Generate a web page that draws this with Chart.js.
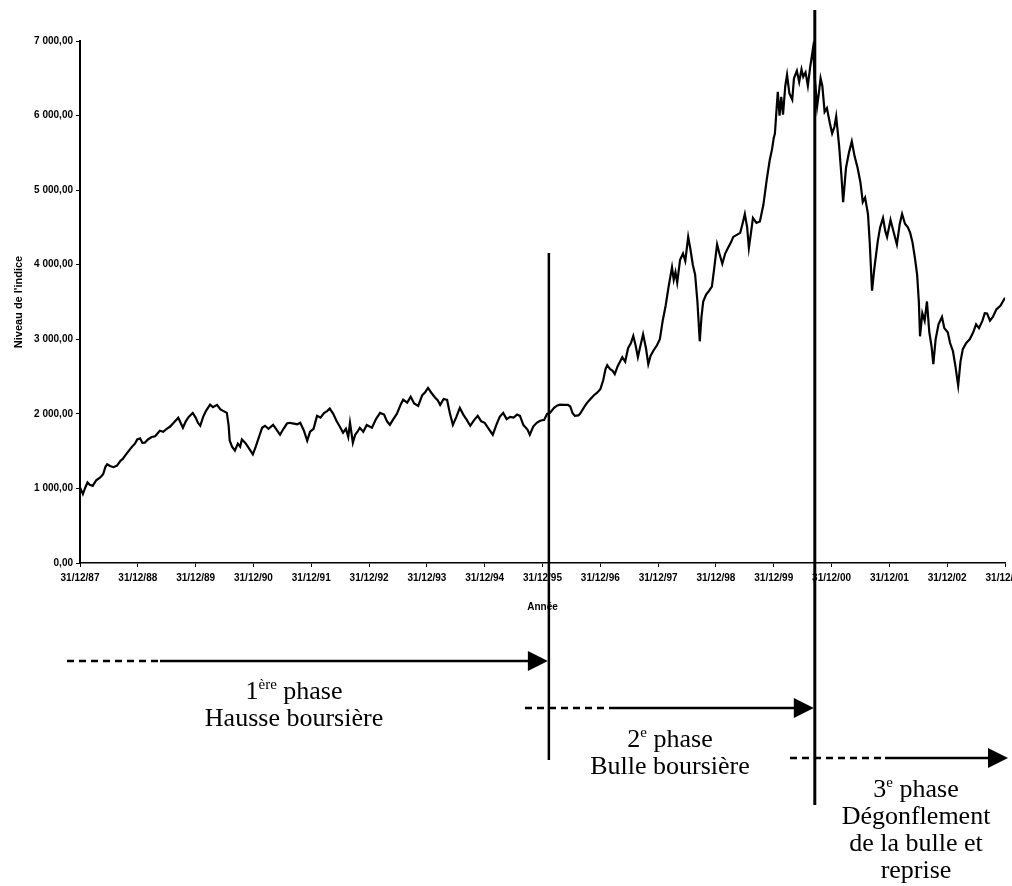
<!DOCTYPE html>
<html><head><meta charset="utf-8">
<script src="https://cdn.jsdelivr.net/npm/chart.js@4.4.1/dist/chart.umd.min.js"></script>
<style>
html,body{margin:0;padding:0;background:#fff;overflow:hidden;width:1012px;height:886px}
#wrap{position:absolute;left:0;top:0;width:1060px;height:886px}
</style></head>
<body><div id="wrap"><canvas id="c" width="1060" height="886"></canvas></div>
<script>
// Dates as decimal years (1988.00 = 31/12/87)
const years = [
1988.00,1988.03,1988.05,1988.09,1988.13,1988.17,1988.22,1988.28,1988.35,1988.40,1988.44,1988.47,1988.52,1988.58,1988.64,1988.70,1988.74,1988.78,1988.84,1988.90,1988.95,1988.99,
1989.04,1989.08,1989.12,1989.18,1989.24,1989.30,1989.38,1989.44,1989.50,1989.56,1989.62,1989.70,1989.74,1989.78,1989.83,1989.88,1989.95,
1990.00,1990.04,1990.08,1990.13,1990.18,1990.25,1990.30,1990.37,1990.43,1990.50,1990.54,1990.57,1990.59,1990.63,1990.68,1990.73,1990.77,1990.80,1990.86,1990.92,1990.99,
1991.04,1991.10,1991.15,1991.20,1991.26,1991.34,1991.40,1991.46,1991.52,1991.58,1991.63,1991.70,1991.76,1991.81,1991.87,1991.93,1991.98,
1992.04,1992.10,1992.16,1992.22,1992.28,1992.32,1992.38,1992.44,1992.50,1992.55,1992.60,1992.64,1992.67,1992.72,1992.76,1992.80,1992.84,1992.90,1992.96,
1993.05,1993.12,1993.19,1993.26,1993.31,1993.36,1993.42,1993.48,1993.55,1993.59,1993.66,1993.72,1993.78,1993.85,1993.92,1993.97,
1994.02,1994.08,1994.14,1994.19,1994.23,1994.29,1994.35,1994.40,1994.45,1994.51,1994.57,1994.63,1994.69,1994.75,1994.82,1994.88,1994.94,
1995.00,1995.07,1995.14,1995.20,1995.26,1995.32,1995.38,1995.44,1995.50,1995.56,1995.61,1995.67,1995.74,1995.78,1995.84,1995.90,1995.96,
1996.03,1996.08,1996.13,1996.20,1996.25,1996.30,1996.38,1996.44,1996.48,1996.52,1996.56,1996.62,1996.65,1996.72,1996.77,1996.83,1996.89,1996.94,
1997.00,1997.05,1997.09,1997.12,1997.17,1997.21,1997.25,1997.30,1997.34,1997.38,1997.43,1997.48,1997.53,1997.57,1997.61,1997.65,1997.69,1997.74,1997.79,1997.83,1997.87,1997.92,1997.98,
1998.03,1998.08,1998.13,1998.18,1998.24,1998.27,1998.30,1998.33,1998.38,1998.43,1998.47,1998.52,1998.56,1998.60,1998.64,1998.68,1998.72,1998.75,1998.78,1998.83,1998.88,1998.93,1998.97,
1999.02,1999.06,1999.11,1999.16,1999.21,1999.26,1999.30,1999.36,1999.42,1999.46,1999.50,1999.54,1999.57,1999.61,1999.64,1999.70,1999.76,1999.82,1999.88,1999.93,1999.97,
2000.00,2000.02,2000.05,2000.07,2000.10,2000.13,2000.16,2000.20,2000.23,2000.27,2000.32,2000.35,2000.40,2000.44,2000.48,2000.51,2000.55,2000.59,2000.63,2000.68,2000.71,2000.75,2000.78,2000.81,2000.84,2000.88,2000.92,2000.97,
2001.01,2001.05,2001.08,2001.13,2001.17,2001.20,2001.25,2001.30,2001.35,2001.40,2001.45,2001.50,2001.54,2001.58,2001.63,2001.66,2001.70,2001.74,2001.80,2001.84,2001.89,2001.93,2001.96,
2002.02,2002.07,2002.13,2002.18,2002.22,2002.27,2002.32,2002.36,2002.40,2002.44,2002.48,2002.51,2002.53,2002.57,2002.61,2002.65,2002.69,2002.73,2002.76,2002.80,2002.85,2002.91,2002.95,
2003.01,2003.05,2003.10,2003.14,2003.19,2003.23,2003.27,2003.33,2003.39,2003.45,2003.50,2003.55,2003.61,2003.65,2003.69,2003.74,2003.79,2003.85,2003.92,2004.00
];
const levels = [
1013,960,924,1010,1080,1050,1035,1110,1147,1190,1290,1324,1300,1285,1307,1370,1395,1440,1500,1560,1600,1657,
1670,1610,1613,1660,1690,1700,1773,1760,1800,1830,1880,1947,1880,1813,1900,1960,2013,
1950,1880,1840,1960,2040,2124,2090,2120,2060,2030,2013,1850,1640,1560,1507,1600,1560,1657,1610,1540,1457,
1560,1700,1813,1840,1800,1853,1790,1720,1800,1870,1880,1870,1860,1880,1780,1640,1760,
1800,1973,1950,2010,2040,2071,2000,1900,1820,1747,1800,1690,1880,1613,1720,1760,1813,1760,1850,
1813,1930,2013,1990,1900,1853,1930,2000,2130,2191,2150,2230,2140,2107,2250,2290,
2347,2280,2220,2180,2120,2200,2187,2000,1853,1960,2080,1990,1920,1840,1920,1973,1900,
1880,1800,1720,1850,1960,2013,1930,1960,1950,1990,1973,1850,1790,1720,1830,1880,1907,
1920,2000,2013,2080,2110,2124,2120,2120,2099,2010,1973,1980,2000,2090,2147,2200,2250,2280,
2330,2450,2600,2653,2600,2580,2533,2640,2700,2760,2700,2880,2950,3044,2920,2760,2900,3067,2880,2667,2780,2850,2920,
3000,3253,3450,3700,3965,3800,3900,3760,4067,4150,4050,4373,4200,4000,3867,3500,2973,3300,3507,3600,3650,3707,3950,
4272,4150,4013,4150,4227,4300,4373,4400,4427,4550,4680,4500,4227,4450,4627,4560,4579,4800,5147,5400,5547,
5700,5760,6100,6320,6000,6250,6013,6400,6547,6300,6213,6500,6600,6450,6620,6520,6580,6400,6650,6907,6500,6120,6300,6500,6400,6050,6100,5900,
5760,5850,5987,5600,5200,4840,5300,5500,5653,5450,5300,5100,4840,4900,4680,4300,3653,3950,4320,4500,4627,4450,4373,
4600,4450,4272,4550,4680,4550,4500,4427,4300,4100,3867,3500,3040,3350,3250,3507,3100,2900,2667,3000,3200,3300,3150,
3093,2950,2840,2650,2379,2700,2867,2950,3000,3093,3200,3150,3250,3350,3347,3250,3300,3400,3450,3557
];
const tickLabels = ['31/12/87','31/12/88','31/12/89','31/12/90','31/12/91','31/12/92','31/12/93','31/12/94','31/12/95','31/12/96','31/12/97','31/12/98','31/12/99','31/12/00','31/12/01','31/12/02','31/12/03'];
const yTicks = [0,1000,2000,3000,4000,5000,6000,7000];
const phaseBounds = [1996.11, 2000.71];
const phaseNums = ['1','2','3'];
const phaseSups = ['ère','e','e'];
const phaseLines = [['Hausse boursière'],['Bulle boursière'],['Dégonflement','de la bulle et','reprise']];

function fmt(v){
  if (v === 0) return '0,00';
  return Math.floor(v/1000) + ' ' + String(v%1000).padStart(3,'0') + ',00';
}

const axisFont = {family:'"Liberation Sans", Arial, sans-serif', size:10, weight:'bold'};
const titleFont = {family:'"Liberation Sans", Arial, sans-serif', size:11, weight:'bold'};

const annot = {
  id:'annot',
  afterDraw(chart){
    const ctx = chart.ctx, xs = chart.scales.x;
    const b1 = xs.getPixelForValue(phaseBounds[0]);
    const b2 = xs.getPixelForValue(phaseBounds[1]);
    const right = chart.chartArea.right;
    ctx.save();
    ctx.strokeStyle = '#000'; ctx.fillStyle = '#000';
    function vline(x, y0, y1, w){
      ctx.lineWidth = w; ctx.setLineDash([]);
      ctx.beginPath(); ctx.moveTo(x, y0); ctx.lineTo(x, y1); ctx.stroke();
    }
    function arrow(x0, xd, x1, y){
      ctx.lineWidth = 2.5;
      ctx.setLineDash([7,5]);
      ctx.beginPath(); ctx.moveTo(x0, y); ctx.lineTo(xd, y); ctx.stroke();
      ctx.setLineDash([]);
      ctx.beginPath(); ctx.moveTo(xd, y); ctx.lineTo(x1-18, y); ctx.stroke();
      ctx.beginPath(); ctx.moveTo(x1, y); ctx.lineTo(x1-20, y-10); ctx.lineTo(x1-20, y+10); ctx.closePath(); ctx.fill();
    }
    vline(b1, 253, 760, 2.5);
    vline(b2, 10, 805, 3);
    arrow(67, 160, b1-1, 661);
    arrow(525, 613, b2-1, 708);
    arrow(790, 885, right+3, 758);

    const serif = '"Liberation Serif", "Times New Roman", serif';
    const big = '26px ' + serif, small = '15px ' + serif;
    function phaseTitle(cx, cy, num, sup, rest){
      ctx.font = big; const w1 = ctx.measureText(num).width; const w3 = ctx.measureText(rest).width;
      ctx.font = small; const w2 = ctx.measureText(sup).width;
      let x = cx - (w1+w2+w3)/2;
      const base = cy + 9;
      ctx.textAlign = 'left'; ctx.textBaseline = 'alphabetic';
      ctx.font = big; ctx.fillText(num, x, base); x += w1;
      ctx.font = small; ctx.fillText(sup, x, base - 10); x += w2;
      ctx.font = big; ctx.fillText(rest, x, base);
    }
    function lines(cx, cy, arr, lh){
      ctx.font = big; ctx.textAlign = 'center'; ctx.textBaseline = 'alphabetic';
      arr.forEach((t,i)=>ctx.fillText(t, cx, cy + 9 + i*lh));
    }
    const centers = [[294,690],[670,738],[916,788]];
    centers.forEach((c,i)=>{
      phaseTitle(c[0], c[1], phaseNums[i], phaseSups[i], ' phase');
      lines(c[0], c[1]+27, phaseLines[i], 27);
    });
    ctx.restore();
  }
};

new Chart(document.getElementById('c').getContext('2d'), {
  type:'line',
  data:{datasets:[{
    data: years.map((y,i)=>({x:y, y:levels[i]})),
    borderColor:'#000', borderWidth:2.2, pointRadius:0, tension:0, fill:false
  }]},
  options:{
    responsive:false, animation:false, events:[],
    layout:{padding:{left:0,right:55,top:41,bottom:273}},
    plugins:{legend:{display:false}, tooltip:{enabled:false}},
    scales:{
      x:{
        type:'linear', min:1988, max:2004,
        afterBuildTicks: s => { s.ticks = tickLabels.map((l,i)=>({value:1988+i})); },
        ticks:{callback:v=>tickLabels[Math.round(v-1988)], maxRotation:0, autoSkip:false, font:axisFont, color:'#000', padding:5},
        grid:{display:true, drawOnChartArea:false, drawTicks:true, tickLength:4, color:'#000'},
        border:{display:true, color:'#000', width:1.5},
        title:{display:true, text:'Année', font:axisFont, color:'#000', padding:{top:12,bottom:0}}
      },
      y:{
        min:0, max:7000,
        afterBuildTicks: s => { s.ticks = yTicks.map(v=>({value:v})); },
        ticks:{callback:v=>fmt(v), font:axisFont, color:'#000', padding:3},
        grid:{display:true, drawOnChartArea:false, drawTicks:true, tickLength:4, color:'#000'},
        border:{display:true, color:'#000', width:2},
        title:{display:true, text:"Niveau de l'indice", font:titleFont, color:'#000', padding:{top:12,bottom:0}},
        afterFit: s => { s.width = 80; }
      }
    }
  },
  plugins:[annot]
});
</script>
</body></html>
